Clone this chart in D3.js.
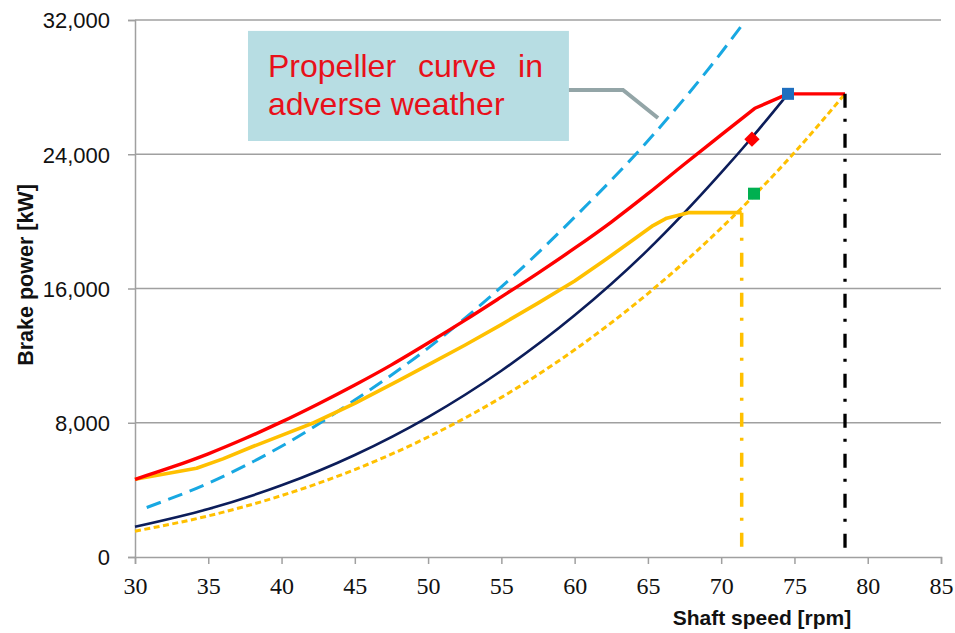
<!DOCTYPE html>
<html><head><meta charset="utf-8">
<script src="https://cdn.jsdelivr.net/npm/d3@7"></script>
<style>
html,body{margin:0;padding:0;background:#fff;}
svg{display:block;}
</style></head>
<body>
<svg id="chart" width="955" height="633"></svg>
<script>
// ---- data ----
const xTicks = [30,35,40,45,50,55,60,65,70,75,80,85];
const yTicks = [0,8000,16000,24000,32000];

// heavy running propeller curve (navy)
const navySpeed = [30,35,40,45,50,55,60,65,70,72.1,74.56];
const navyPower = [1800,2860,4270,6080,8340,11100,14400,18300,22900,25000,27600];

// light running propeller curve (yellow dashed)
const lightSpeed = [30,35,40,45,50,55,60,65,70,75,78.45];
const lightPower = [1540,2450,3660,5210,7150,9510,12350,15700,19600,24100,27600];

// engine limit curve (red)
const redSpeed = [30,32.5,35,37.5,40,42.5,45,47.5,50,52.5,55,57.5,60,62.5,65,67.5,70,72.3,74.56,78.45];
const redPower = [4630,5350,6150,7060,8050,9120,10250,11450,12750,14100,15500,16920,18400,19960,21650,23420,25150,26740,27600,27600];

// limit curve (yellow solid)
const yelSpeed = [30,34.2,36,38,40,42.2,45,48.08,50,52.5,55,57.5,60,62,64,65.35,66.28,67.76,71.4];
const yelPower = [4630,5290,5850,6570,7250,8000,9150,10550,11450,12620,13850,15130,16450,17650,18900,19750,20190,20520,20520];

// propeller curve in adverse weather (light blue dashed)
const advSpeed = [30.8,35,40,45,50,55,60,65,70,71.55];
const advPower = [2950,4400,6600,9350,12450,16100,20250,24800,30050,31850];

// vertical limits
const yelVertSpeed = 71.4, yelVertTop = 20520;
const blkVertSpeed = 78.45, blkVertTop = 27600;

// markers
const blueSquare = [74.56, 27600];
const redDiamond = [72.1, 24900];
const greenSquare = [72.24, 21650];

// annotation
const noteLines = ["Propeller curve in", "adverse weather"];
const noteBox = {x0: 37.71, x1: 59.61, y0: 31350, y1: 24790};
const noteLeader = [[59.61, 27830],[63.3, 27830],[65.69, 26160]];

const xTitle = "Shaft speed [rpm]";
const yTitle = "Brake power [kW]";

// ---- drawing ----
const svg = d3.select("#chart");
const x = d3.scaleLinear().domain([30,85]).range([135,941]);
const y = d3.scaleLinear().domain([0,32000]).range([557,20]);
const gridCol = "#a0a0a0";
const sans = "'Liberation Sans', Arial, sans-serif";
const serif = "'Liberation Serif', 'Times New Roman', serif";

// gridlines
svg.append("g").selectAll("line").data(yTicks.filter(d=>d>0)).join("line")
  .attr("x1", x(30)).attr("x2", x(85))
  .attr("y1", d=>y(d)).attr("y2", d=>y(d))
  .attr("stroke", gridCol).attr("stroke-width", 1.5);

// y axis
const yAxis = svg.append("g").attr("transform", `translate(${x(30)},0)`)
  .call(d3.axisLeft(y).tickValues(yTicks).tickSize(7).tickPadding(18).tickFormat(d3.format(",")));
yAxis.select(".domain").attr("stroke", gridCol).attr("stroke-width", 1.5);
yAxis.selectAll(".tick line").attr("stroke", gridCol).attr("stroke-width", 1.5);
yAxis.selectAll(".tick text").style("font-family", sans)
  .style("font-size", "22px").style("fill", "#111").attr("dy", "0.36em");

// x axis
const xAxis = svg.append("g").attr("transform", `translate(0,${y(0)})`)
  .call(d3.axisBottom(x).tickValues(xTicks).tickSize(7).tickPadding(13).tickFormat(d3.format("d")));
xAxis.select(".domain").attr("stroke", gridCol).attr("stroke-width", 1.5);
xAxis.selectAll(".tick line").attr("stroke", gridCol).attr("stroke-width", 1.5);
xAxis.selectAll(".tick text").style("font-family", serif)
  .style("font-size", "24px").style("fill", "#111");

// axis titles
svg.append("text").attr("x", 762).attr("y", 625)
  .attr("text-anchor", "middle").style("font-family", sans)
  .style("font-weight", "bold").style("font-size", "21px").style("fill", "#111").text(xTitle);
svg.append("text").attr("transform", "translate(33,275) rotate(-90)")
  .attr("text-anchor", "middle").style("font-family", sans)
  .style("font-weight", "bold").style("font-size", "21.5px").style("fill", "#111").text(yTitle);

const zip = (a,b) => a.map((v,i)=>[v,b[i]]);
const smooth = d3.line().x(d=>x(d[0])).y(d=>y(d[1])).curve(d3.curveMonotoneX);
const straight = d3.line().x(d=>x(d[0])).y(d=>y(d[1]));

// annotation box + leader
svg.append("rect").attr("x", x(noteBox.x0)).attr("y", y(noteBox.y0))
  .attr("width", x(noteBox.x1)-x(noteBox.x0)).attr("height", y(noteBox.y1)-y(noteBox.y0))
  .attr("fill", "#b7dde3");
svg.append("path").attr("d", straight(noteLeader))
  .attr("fill", "none").attr("stroke", "#93a5a7").attr("stroke-width", 4);
const tx = x(noteBox.x0) + 20;
svg.append("text").attr("x", tx).attr("y", y(noteBox.y0) + 46)
  .style("font-family", sans).style("font-size", "32px")
  .style("fill", "#e8101a").style("word-spacing", "13px").text(noteLines[0]);
svg.append("text").attr("x", tx).attr("y", y(noteBox.y0) + 84)
  .style("font-family", sans).style("font-size", "32px")
  .style("fill", "#e8101a").text(noteLines[1]);

// curves
svg.append("path").attr("d", smooth(zip(advSpeed, advPower)))
  .attr("fill","none").attr("stroke","#18a8e2").attr("stroke-width",3).attr("stroke-dasharray","15 8");
svg.append("path").attr("d", smooth(zip(lightSpeed, lightPower)))
  .attr("fill","none").attr("stroke","#ffc000").attr("stroke-width",3).attr("stroke-dasharray","6 3.5");
svg.append("path").attr("d", smooth(zip(navySpeed, navyPower)))
  .attr("fill","none").attr("stroke","#0c1d5a").attr("stroke-width",2.6);
svg.append("path").attr("d", straight(zip(yelSpeed, yelPower)))
  .attr("fill","none").attr("stroke","#ffc000").attr("stroke-width",3.6).attr("stroke-linejoin","round");

const redPts = zip(redSpeed, redPower);
const kink = redSpeed.indexOf(72.3);
svg.append("path").attr("d", smooth(redPts.slice(0, kink+1)) + straight(redPts.slice(kink)).replace(/^M/, "L"))
  .attr("fill","none").attr("stroke","#ff0000").attr("stroke-width",3.4).attr("stroke-linejoin","round");

// vertical dash-dot lines
svg.append("line").attr("x1", x(yelVertSpeed)).attr("x2", x(yelVertSpeed))
  .attr("y1", y(yelVertTop)).attr("y2", y(0))
  .attr("stroke","#ffc000").attr("stroke-width",3.5).attr("stroke-dasharray","14 11 3 12");
svg.append("line").attr("x1", x(blkVertSpeed)).attr("x2", x(blkVertSpeed))
  .attr("y1", y(blkVertTop)).attr("y2", y(0))
  .attr("stroke","#000").attr("stroke-width",3.3).attr("stroke-dasharray","14 11 3 12");

// markers
const ms = 12;
svg.append("rect").attr("x", x(blueSquare[0])-ms/2).attr("y", y(blueSquare[1])-ms/2)
  .attr("width", ms).attr("height", ms).attr("fill", "#1f6fbf");
svg.append("rect").attr("x", x(greenSquare[0])-ms/2).attr("y", y(greenSquare[1])-ms/2)
  .attr("width", ms).attr("height", ms).attr("fill", "#00b050");
svg.append("path")
  .attr("d", d3.symbol().type(d3.symbolDiamond2).size(150)())
  .attr("transform", `translate(${x(redDiamond[0])},${y(redDiamond[1])})`)
  .attr("fill", "#ff0000");
</script>
</body></html>
